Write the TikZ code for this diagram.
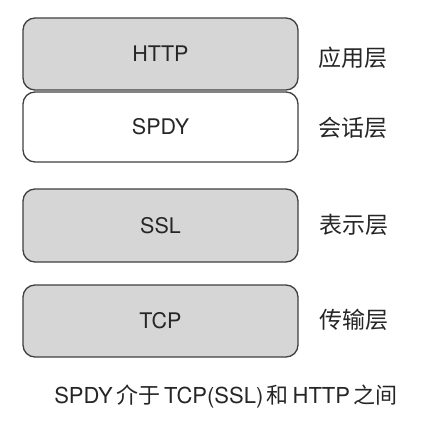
\documentclass[tikz,border=0pt]{standalone}
\usepackage{fontspec}
\setmainfont{TeX Gyre Heros}
\newfontfamily\cjk{Noto Sans CJK SC}
\begin{document}
\begin{tikzpicture}[x=1pt,y=-1pt,
  layerbox/.style={draw=black!75, line width=1.3pt, rounded corners=12pt, text=black!85,
     font=\fontsize{21.5}{25}\selectfont},
  grayfill/.style={fill=black!16},
  layerlabel/.style={text=black!85, font=\cjk\fontsize{23}{27}\selectfont},
  caption/.style={text=black!85, font=\fontsize{22}{26}\selectfont}]
\useasboundingbox (0,0) rectangle (422,431);
\fill[white] (0,0) rectangle (422,431);
\draw[layerbox,grayfill] (23,18) rectangle (298,90);
\node[layerbox,draw=none] (http) at (160.5,54) {HTTP};
\draw[layerbox,fill=white] (23,92) rectangle (298,162);
\node[layerbox,draw=none] (spdy) at (160.5,127) {SPDY};
\draw[layerbox,grayfill] (23,189) rectangle (298,262);
\node[layerbox,draw=none] (ssl) at (160.5,225.5) {SSL};
\draw[layerbox,grayfill] (23,285) rectangle (298,357);
\node[layerbox,draw=none] (tcp) at (160.5,321) {TCP};
\node[layerlabel] (l1) at (353,58) {应用层};
\node[layerlabel] (l2) at (353,128) {会话层};
\node[layerlabel] (l3) at (354,225) {表示层};
\node[layerlabel] (l4) at (354,320) {传输层};
\node[caption] (cap) at (226,397) {SPDY\,{\cjk 介于}\,TCP(SSL)\,{\cjk 和}\,HTTP\,{\cjk 之间}};
\end{tikzpicture}
\end{document}
